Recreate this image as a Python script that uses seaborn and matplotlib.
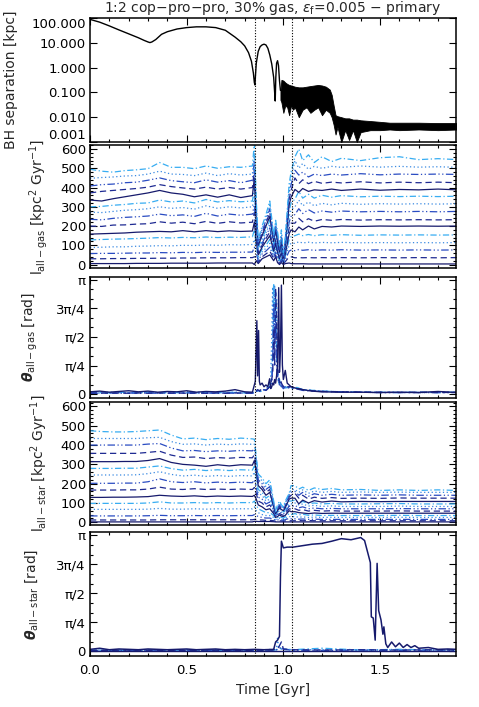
import numpy as np
import seaborn as sns
import matplotlib
matplotlib.use("Agg")
from matplotlib import pyplot as plt
from matplotlib.ticker import FixedLocator, MultipleLocator, LogLocator, NullFormatter

# ---------------- data ----------------
MERGE_T = [0.851, 1.045]

# BH separation, smooth orbit part [kpc]
T_SEP = [0.00, 0.05, 0.10, 0.15, 0.20, 0.25, 0.28, 0.30, 0.31, 0.32, 0.34, 0.37, 0.40, 0.45, 0.50,
         0.55, 0.60, 0.65, 0.70, 0.75, 0.78, 0.80, 0.82, 0.835, 0.845, 0.850, 0.853, 0.856, 0.86,
         0.87, 0.88, 0.89, 0.90, 0.91, 0.92, 0.93, 0.94, 0.95, 0.955, 0.958, 0.961, 0.965, 0.97,
         0.975, 0.98, 0.985]
SEP = [88, 68, 48, 33, 23, 16, 12.5, 10.8, 10.2, 10.8, 13.5, 22, 28, 36, 41,
       44, 44, 41, 32, 17, 11, 7.5, 4, 1.8, 0.6, 0.25, 0.2, 0.5, 1.5,
       4.5, 7, 8.2, 8.8, 8.2, 6, 3.2, 1.4, 0.4, 0.1, 0.045, 0.4, 1.5, 1.9,
       1.2, 0.3, 0.12]

# BH separation, unresolved oscillation band after coalescence
T_BAND = [0.985, 0.99, 1.00, 1.01, 1.02, 1.03, 1.04, 1.05, 1.06, 1.08, 1.10, 1.12, 1.14, 1.16, 1.18,
          1.20, 1.22, 1.24, 1.25, 1.26, 1.27, 1.28, 1.30, 1.32, 1.34, 1.36, 1.38, 1.40, 1.45, 1.50,
          1.55, 1.60, 1.70, 1.80, 1.90]
BAND_HI = [0.12, 0.32, 0.3, 0.25, 0.22, 0.2, 0.19, 0.18, 0.17, 0.16, 0.16, 0.17, 0.18, 0.19, 0.2,
           0.19, 0.17, 0.13, 0.08, 0.03, 0.012, 0.011, 0.01, 0.009, 0.009, 0.008, 0.008, 0.0075, 0.007, 0.0065,
           0.006, 0.006, 0.006, 0.0058, 0.0058]
BAND_LO = [0.05, 0.04, 0.015, 0.03, 0.025, 0.012, 0.03, 0.02, 0.025, 0.01, 0.02, 0.025, 0.015, 0.02, 0.025,
           0.012, 0.02, 0.015, 0.01, 0.005, 0.002, 0.004, 0.001, 0.003, 0.0012, 0.003, 0.001, 0.0025, 0.003, 0.003,
           0.0032, 0.003, 0.0032, 0.003, 0.0032]

# specific angular momentum, 15 radial shells, shared time knots [Gyr]
T_L = [0.00, 0.06, 0.12, 0.18, 0.24, 0.30, 0.36, 0.42, 0.48, 0.54, 0.60, 0.66, 0.72, 0.78, 0.84,
       0.85, 0.86, 0.87, 0.89, 0.91, 0.93, 0.95, 0.96, 0.97, 0.98, 0.99, 1.00, 1.01, 1.03, 1.04,
       1.06, 1.08, 1.10, 1.13, 1.16, 1.20, 1.25, 1.30, 1.40, 1.50, 1.60, 1.70, 1.80, 1.90]

L_GAS = [
    [5, 5, 5, 5, 6, 6, 6, 7, 7, 7, 7, 8, 8, 8, 8,
     0, 20, 5, 30, 40, 50, 20, 40, 10, 0, 10, 0, 5, 8, 5,
     4, 4, 4, 3, 3, 3, 3, 3, 3, 3, 3, 3, 3, 3],
    [30, 30, 31, 31, 32, 32, 33, 33, 34, 34, 35, 35, 35, 36, 36,
     40, 40, 10, 40, 55, 70, 30, 50, 20, 5, 20, 2, 15, 40, 40,
     35, 36, 35, 36, 35, 36, 35, 36, 35, 36, 35, 36, 35, 36],
    [57, 58, 58, 59, 60, 60, 62, 61, 63, 62, 64, 63, 64, 64, 65,
     90, 60, 20, 55, 70, 90, 40, 65, 30, 10, 30, 5, 25, 70, 75,
     72, 78, 74, 77, 74, 76, 75, 77, 75, 76, 75, 76, 75, 76],
    [88, 90, 92, 92, 95, 96, 98, 97, 100, 99, 102, 100, 103, 102, 104,
     130, 80, 30, 65, 85, 110, 50, 80, 40, 15, 40, 8, 35, 100, 110,
     110, 118, 112, 116, 112, 115, 113, 115, 113, 114, 113, 114, 113, 114],
    [128, 130, 132, 133, 135, 137, 140, 138, 141, 139, 143, 140, 142, 141, 144,
     180, 100, 40, 80, 100, 130, 60, 95, 55, 20, 55, 10, 45, 130, 145,
     150, 158, 150, 156, 150, 155, 152, 155, 152, 154, 153, 154, 153, 154],
    [158, 160, 162, 164, 168, 170, 172, 170, 176, 170, 176, 171, 175, 172, 174,
     220, 120, 50, 90, 120, 150, 70, 110, 65, 30, 65, 15, 55, 160, 180,
     170, 195, 180, 200, 185, 198, 195, 200, 198, 200, 199, 200, 199, 200],
    [200, 198, 205, 206, 210, 212, 222, 215, 220, 212, 224, 214, 222, 216, 220,
     270, 150, 60, 100, 135, 170, 80, 125, 75, 35, 75, 18, 65, 190, 215,
     215, 240, 222, 238, 225, 234, 230, 234, 231, 233, 232, 233, 232, 233],
    [235, 232, 240, 245, 248, 252, 262, 254, 258, 250, 266, 252, 262, 256, 262,
     310, 170, 70, 110, 150, 190, 90, 140, 85, 45, 90, 22, 75, 220, 250,
     260, 290, 265, 285, 268, 278, 272, 278, 274, 276, 274, 276, 274, 276],
    [272, 270, 276, 282, 285, 290, 300, 292, 296, 288, 305, 292, 300, 294, 300,
     360, 190, 80, 120, 165, 210, 100, 155, 100, 50, 100, 26, 85, 250, 285,
     300, 335, 305, 325, 305, 318, 310, 318, 313, 316, 314, 316, 314, 316],
    [300, 302, 308, 312, 318, 320, 335, 325, 330, 320, 338, 325, 332, 326, 330,
     400, 210, 90, 135, 180, 230, 110, 170, 110, 60, 110, 30, 95, 280, 320,
     340, 380, 345, 365, 345, 360, 350, 358, 352, 355, 353, 355, 353, 355],
    [335, 330, 342, 352, 362, 372, 385, 372, 365, 352, 362, 350, 362, 348, 358,
     450, 240, 100, 150, 200, 250, 120, 180, 120, 65, 125, 35, 105, 310, 350,
     390, 375, 395, 380, 388, 385, 392, 385, 392, 386, 390, 388, 392, 388],
    [372, 380, 385, 390, 395, 402, 415, 405, 398, 392, 402, 392, 400, 392, 400,
     490, 260, 105, 160, 215, 270, 130, 195, 135, 75, 135, 40, 115, 340, 385,
     450, 420, 440, 420, 432, 422, 428, 424, 430, 424, 428, 425, 428, 425],
    [408, 415, 418, 425, 428, 438, 450, 436, 430, 425, 440, 428, 436, 425, 438,
     540, 280, 115, 170, 230, 290, 135, 205, 145, 80, 150, 45, 125, 370, 415,
     490, 465, 480, 455, 470, 462, 470, 465, 472, 466, 470, 468, 470, 468],
    [448, 452, 455, 460, 462, 470, 485, 470, 468, 462, 475, 462, 472, 465, 470,
     580, 300, 120, 185, 245, 310, 140, 215, 155, 90, 165, 52, 130, 395, 450,
     540, 500, 525, 495, 510, 500, 510, 505, 512, 506, 510, 506, 508, 505],
    [495, 485, 480, 488, 492, 498, 530, 505, 505, 498, 512, 500, 508, 505, 512,
     630, 330, 130, 200, 260, 330, 150, 230, 170, 100, 180, 60, 140, 420, 480,
     560, 600, 540, 570, 530, 560, 535, 552, 540, 555, 560, 545, 550, 545],
]

L_STAR = [
    [2, 2, 2, 2, 2, 2, 2, 2, 2, 2, 2, 2, 2, 2, 2,
     5, 5, 4, 4, 4, 4, 3, 2, 2, 2, 2, 2, 2, 2, 2,
     2, 2, 2, 2, 2, 2, 2, 2, 2, 2, 2, 2, 2, 2],
    [12, 12, 12, 12, 12, 12, 13, 13, 13, 13, 13, 13, 13, 13, 13,
     15, 15, 12, 12, 10, 10, 8, 5, 6, 8, 7, 6, 7, 8, 8,
     8, 9, 8, 9, 8, 8, 8, 8, 8, 8, 8, 8, 8, 8],
    [33, 33, 33, 33, 33, 34, 36, 34, 34, 35, 34, 35, 34, 35, 35,
     40, 35, 30, 25, 22, 22, 15, 10, 12, 15, 12, 10, 14, 20, 18,
     18, 16, 17, 15, 16, 15, 15, 15, 15, 15, 15, 15, 15, 15],
    [67, 67, 67, 67, 67, 68, 72, 68, 68, 70, 68, 70, 69, 70, 70,
     80, 60, 50, 40, 35, 35, 25, 15, 18, 22, 18, 15, 20, 30, 28,
     30, 26, 28, 25, 27, 25, 26, 25, 25, 25, 26, 25, 25, 25],
    [98, 98, 98, 98, 98, 100, 106, 100, 100, 102, 100, 102, 100, 102, 102,
     110, 90, 70, 60, 50, 50, 35, 20, 24, 30, 25, 22, 28, 45, 40,
     45, 38, 42, 36, 38, 35, 36, 35, 35, 35, 36, 35, 35, 35],
    [129, 129, 130, 130, 131, 133, 140, 136, 134, 137, 133, 136, 134, 136, 134,
     140, 120, 90, 80, 65, 70, 45, 25, 30, 38, 32, 30, 36, 60, 55,
     55, 50, 48, 45, 48, 46, 47, 47, 47, 47, 47, 47, 47, 47],
    [167, 167, 167, 168, 168, 172, 182, 172, 170, 174, 170, 172, 170, 172, 170,
     180, 150, 110, 100, 80, 90, 55, 30, 36, 45, 40, 36, 44, 70, 68,
     70, 62, 66, 58, 62, 58, 60, 58, 58, 58, 59, 58, 58, 58],
    [202, 202, 202, 203, 203, 210, 225, 210, 206, 210, 204, 208, 205, 208, 205,
     220, 180, 130, 120, 95, 105, 60, 35, 42, 52, 46, 42, 52, 85, 80,
     88, 75, 80, 70, 74, 70, 72, 70, 70, 70, 71, 70, 70, 70],
    [245, 245, 245, 245, 246, 252, 262, 248, 240, 244, 238, 242, 238, 242, 240,
     260, 210, 150, 140, 110, 120, 65, 40, 48, 60, 53, 48, 60, 95, 95,
     100, 90, 95, 84, 88, 82, 85, 82, 82, 82, 84, 82, 82, 82],
    [279, 279, 279, 280, 280, 286, 292, 278, 270, 274, 268, 272, 268, 272, 270,
     290, 240, 170, 155, 125, 140, 75, 42, 54, 68, 60, 54, 68, 110, 110,
     115, 100, 108, 96, 100, 95, 98, 95, 95, 96, 97, 95, 95, 95],
    [314, 314, 314, 315, 315, 320, 330, 310, 300, 296, 290, 298, 292, 298, 296,
     320, 265, 190, 170, 140, 155, 80, 45, 60, 75, 66, 60, 76, 120, 125,
     125, 95, 115, 100, 112, 105, 110, 106, 108, 107, 108, 108, 108, 108],
    [357, 357, 357, 357, 357, 362, 368, 348, 336, 338, 330, 335, 332, 336, 334,
     350, 290, 205, 185, 155, 170, 90, 50, 66, 82, 72, 66, 84, 130, 140,
     150, 125, 140, 120, 130, 124, 128, 124, 125, 124, 126, 125, 125, 125],
    [400, 400, 400, 400, 400, 405, 408, 385, 370, 372, 366, 370, 368, 372, 370,
     380, 310, 220, 200, 170, 185, 95, 52, 72, 90, 78, 72, 92, 140, 155,
     160, 140, 155, 135, 148, 140, 145, 140, 142, 140, 142, 140, 140, 140],
    [434, 434, 434, 434, 434, 438, 440, 418, 404, 406, 400, 405, 402, 406, 404,
     405, 325, 235, 215, 185, 200, 100, 55, 80, 100, 84, 76, 100, 145, 170,
     170, 155, 168, 150, 162, 155, 160, 155, 157, 155, 156, 155, 155, 155],
    [474, 470, 468, 468, 470, 474, 478, 452, 432, 436, 428, 434, 430, 436, 432,
     430, 340, 250, 230, 200, 220, 110, 60, 90, 110, 90, 80, 110, 150, 190,
     190, 172, 182, 165, 178, 170, 175, 168, 170, 165, 168, 165, 168, 165],
]

# misalignment angle of gas [rad]; line style index of each curve
T_THG = [0.00, 0.05, 0.10, 0.15, 0.20, 0.25, 0.30, 0.35, 0.40, 0.45, 0.50, 0.55, 0.60, 0.65, 0.70, 0.75, 0.80, 0.84,
         0.855, 0.863, 0.867, 0.872, 0.876, 0.88, 0.89, 0.90, 0.91, 0.92,
         0.929, 0.935, 0.94, 0.945, 0.95, 0.955, 0.96, 0.965, 0.97, 0.976,
         0.98, 0.985, 0.99, 0.995, 1.00, 1.01, 1.02,
         1.04, 1.07, 1.10, 1.15, 1.20, 1.30, 1.40, 1.50, 1.60, 1.70, 1.80, 1.90]
TH_GAS_STYLE = [4, 3, 2, 1, 0]
TH_GAS = [
    [0.03, 0.04, 0.03, 0.05, 0.04, 0.03, 0.05, 0.04, 0.03, 0.04, 0.05, 0.03, 0.04, 0.03, 0.05, 0.04, 0.03, 0.04,
     0.05, 0.1, 0.08, 0.1, 0.08, 0.07, 0.08, 0.1, 0.12, 0.15, 0.2, 0.3, 0.5, 1.2, 3.05, 2.0, 2.8, 1.0, 0.5, 0.3,
     0.4, 0.25, 0.2, 0.2, 0.15, 0.2, 0.18,
     0.15, 0.18, 0.12, 0.1, 0.08, 0.06, 0.05, 0.05, 0.04, 0.05, 0.04, 0.05],
    [0.04, 0.03, 0.05, 0.04, 0.03, 0.05, 0.04, 0.03, 0.05, 0.04, 0.03, 0.05, 0.04, 0.03, 0.04, 0.05, 0.04, 0.03,
     0.05, 0.08, 0.1, 0.08, 0.1, 0.08, 0.1, 0.12, 0.15, 0.2, 0.25, 0.5, 1.5, 2.95, 1.2, 3.0, 1.5, 2.6, 0.8, 0.4,
     0.3, 0.35, 0.25, 0.2, 0.2, 0.15, 0.2,
     0.18, 0.15, 0.12, 0.1, 0.08, 0.06, 0.05, 0.04, 0.05, 0.04, 0.05, 0.04],
    [0.03, 0.02, 0.03, 0.02, 0.03, 0.02, 0.03, 0.02, 0.03, 0.02, 0.03, 0.02, 0.03, 0.02, 0.03, 0.02, 0.03, 0.02,
     0.05, 0.08, 0.06, 0.08, 0.1, 0.08, 0.1, 0.12, 0.1, 0.15, 0.2, 0.25, 0.3, 0.8, 2.5, 1.5, 2.0, 0.8, 0.5, 0.3,
     0.25, 0.3, 0.2, 0.2, 0.15, 0.2, 0.18,
     0.16, 0.14, 0.1, 0.08, 0.07, 0.06, 0.05, 0.04, 0.04, 0.04, 0.04, 0.04],
    [0.02, 0.03, 0.02, 0.03, 0.02, 0.03, 0.02, 0.03, 0.02, 0.03, 0.02, 0.03, 0.02, 0.03, 0.02, 0.03, 0.02, 0.03,
     0.05, 0.1, 0.12, 0.1, 0.08, 0.1, 0.15, 0.12, 0.1, 0.15, 0.2, 0.3, 0.4, 0.6, 1.8, 0.8, 2.9, 2.0, 0.7, 0.5,
     0.3, 0.4, 0.3, 0.25, 0.2, 0.25, 0.2,
     0.2, 0.16, 0.12, 0.09, 0.07, 0.06, 0.05, 0.05, 0.04, 0.05, 0.04, 0.05],
    [0.06, 0.08, 0.05, 0.07, 0.09, 0.06, 0.08, 0.05, 0.07, 0.06, 0.09, 0.05, 0.07, 0.06, 0.08, 0.12, 0.06, 0.05,
     0.35, 2.02, 0.5, 1.75, 0.35, 0.25, 0.3, 0.2, 0.25, 0.2, 0.42, 0.15, 0.2, 0.3, 0.25, 0.4, 0.3, 0.5, 0.8, 2.93,
     0.6, 1.2, 3.0, 0.8, 0.4, 0.65, 0.3,
     0.2, 0.15, 0.12, 0.08, 0.06, 0.05, 0.05, 0.04, 0.05, 0.04, 0.07, 0.04],
]

# misalignment angle of stars [rad]
T_THS_LOW = [0.0, 0.2, 0.4, 0.6, 0.8, 0.9, 0.95, 0.965, 0.97, 0.975, 0.99, 1.0, 1.05, 1.2, 1.4, 1.6, 1.8, 1.9]
TH_STAR_LOW_STYLE = [4, 2, 3, 1, 0]
TH_STAR_LOW = [
    [0.03, 0.02, 0.03, 0.02, 0.03, 0.02, 0.03, 0.04, 0.05, 0.06, 0.08, 0.05, 0.04, 0.08, 0.03, 0.05, 0.03, 0.04],
    [0.02, 0.02, 0.03, 0.02, 0.02, 0.03, 0.03, 0.04, 0.06, 0.05, 0.12, 0.05, 0.03, 0.02, 0.03, 0.02, 0.03, 0.02],
    [0.03, 0.04, 0.03, 0.04, 0.03, 0.04, 0.05, 0.1, 0.35, 0.1, 0.06, 0.05, 0.04, 0.04, 0.03, 0.04, 0.03, 0.04],
    [0.02, 0.03, 0.02, 0.03, 0.02, 0.03, 0.04, 0.05, 0.06, 0.1, 0.25, 0.06, 0.04, 0.03, 0.04, 0.03, 0.04, 0.03],
    [0.01, 0.01, 0.01, 0.01, 0.01, 0.01, 0.01, 0.01, 0.01, 0.01, 0.01, 0.01, 0.01, 0.01, 0.01, 0.01, 0.01, 0.01],
]
T_THS = [0.00, 0.05, 0.10, 0.15, 0.20, 0.25, 0.30, 0.35, 0.40, 0.45, 0.50, 0.55, 0.60, 0.65, 0.70, 0.75, 0.80, 0.85, 0.90, 0.95,
         0.96, 0.97, 0.975, 0.98, 0.985, 0.99, 1.00, 1.02,
         1.05, 1.10, 1.15, 1.20, 1.25, 1.30, 1.35, 1.40, 1.42, 1.44,
         1.45, 1.455, 1.465, 1.475, 1.485, 1.493, 1.505, 1.515, 1.52, 1.53, 1.54,
         1.56, 1.58, 1.60, 1.62, 1.64, 1.66, 1.68, 1.70, 1.75, 1.80, 1.85, 1.90]
TH_STAR = [0.05, 0.08, 0.04, 0.06, 0.05, 0.04, 0.06, 0.05, 0.04, 0.05, 0.06, 0.04, 0.05, 0.06, 0.04, 0.05, 0.04, 0.05, 0.04, 0.05,
           0.25, 0.3, 0.35, 0.4, 2.0, 2.98, 2.8, 2.82,
           2.82, 2.86, 2.9, 2.92, 2.98, 3.05, 3.02, 3.08, 3.0, 2.6,
           2.4, 0.93, 0.9, 0.3, 2.38, 1.1, 0.85, 0.46, 0.66, 0.2, 0.1,
           0.25, 0.12, 0.22, 0.1, 0.18, 0.1, 0.15, 0.08, 0.1, 0.05, 0.06, 0.05]

# line style cycle used for the radial shells
COLORS = ["#161a6c", "#1e2a92", "#2a4cc2", "#3a8ae2", "#38adf2"]
STYLES = ["-", (0, (5, 3)), (0, (6, 2, 1, 2, 1, 2)), (0, (1, 2)), (0, (5, 2, 1, 2))]

PI_TICKS = [0, np.pi / 4, np.pi / 2, 3 * np.pi / 4, np.pi]
PI_LABELS = ["0", "\u03c0/4", "\u03c0/2", "3\u03c0/4", "\u03c0"]

# ---------------- figure ----------------
sns.set_style("ticks")
plt.rcParams["font.family"] = ["DejaVu Sans"]
plt.rcParams["mathtext.fontset"] = "dejavusans"
plt.rcParams["font.size"] = 9.5

W, H = 479, 707
fig = plt.figure(figsize=(W / 100, H / 100), dpi=100)

# panel boxes in pixels: (top, bottom)
boxes = [(18, 142), (145, 268), (277, 398), (402, 525), (532, 656)]
axes = []
for top, bot in boxes:
    axes.append(fig.add_axes([90 / W, 1 - bot / H, 366 / W, (bot - top) / H]))


def shell_lines(ax, t, rows, styles=None, lw=0.9):
    for i, row in enumerate(rows):
        s = styles[i] if styles is not None else i % 5
        sns.lineplot(x=t, y=row, ax=ax, color=COLORS[s], linestyle=STYLES[s],
                     lw=lw, estimator=None, sort=False, legend=False)


# panel 1: BH separation
ax = axes[0]
sns.lineplot(x=T_SEP, y=SEP, ax=ax, color="black", lw=1.0, estimator=None, sort=False)
ax.fill_between(T_BAND, BAND_LO, BAND_HI, color="black", lw=0.6)
ax.set_yscale("log")
ax.set_ylim(1e-3, 1e2)
ax.yaxis.set_major_locator(FixedLocator([1e-3, 1e-2, 1e-1, 1, 10, 100]))
ax.set_yticklabels(["0.001", "0.010", "0.100", "1.000", "10.000", "100.000"])
lbls = ax.get_yticklabels()
lbls[0].set_va("bottom")
lbls[-1].set_va("top")
ax.yaxis.set_minor_locator(LogLocator(base=10, subs=np.arange(2, 10)))
ax.yaxis.set_minor_formatter(NullFormatter())
ax.set_ylabel("BH separation [kpc]", fontsize=10)
ax.yaxis.set_label_coords(-0.196, 0.5)

# panel 2: l gas
ax = axes[1]
shell_lines(ax, T_L, L_GAS)
ax.set_ylim(-18, 621)
ax.yaxis.set_major_locator(MultipleLocator(100))
ax.yaxis.set_minor_locator(MultipleLocator(20))
ax.set_ylabel(r"l$_{\mathrm{all-gas}}$ [kpc$^2$ Gyr$^{-1}$]", fontsize=10)
ax.yaxis.set_label_coords(-0.108, 0.5)

# panel 3: theta gas
ax = axes[2]
shell_lines(ax, T_THG, TH_GAS, TH_GAS_STYLE, lw=1.0)
ax.set_ylim(-0.11, 3.224)
ax.yaxis.set_major_locator(FixedLocator(PI_TICKS))
ax.set_yticklabels(PI_LABELS)
ax.yaxis.set_minor_locator(MultipleLocator(np.pi / 12))
ax.set_ylabel(r"$\boldsymbol{\theta}_{\mathrm{all-gas}}$ [rad]", fontsize=10)
ax.yaxis.set_label_coords(-0.137, 0.5)

# panel 4: l star
ax = axes[3]
shell_lines(ax, T_L, L_STAR)
ax.set_ylim(-14, 623)
ax.yaxis.set_major_locator(MultipleLocator(100))
ax.yaxis.set_minor_locator(MultipleLocator(20))
ax.set_ylabel(r"l$_{\mathrm{all-star}}$ [kpc$^2$ Gyr$^{-1}$]", fontsize=10)
ax.yaxis.set_label_coords(-0.108, 0.5)

# panel 5: theta star
ax = axes[4]
shell_lines(ax, T_THS_LOW, TH_STAR_LOW, TH_STAR_LOW_STYLE, lw=1.0)
sns.lineplot(x=T_THS, y=TH_STAR, ax=ax, color=COLORS[0], lw=1.1, estimator=None, sort=False)
ax.set_ylim(-0.13, 3.23)
ax.yaxis.set_major_locator(FixedLocator(PI_TICKS))
ax.set_yticklabels(PI_LABELS)
ax.yaxis.set_minor_locator(MultipleLocator(np.pi / 12))
ax.set_ylabel(r"$\boldsymbol{\theta}_{\mathrm{all-star}}$ [rad]", fontsize=10)
ax.yaxis.set_label_coords(-0.137, 0.5)
ax.set_xlabel("Time [Gyr]", fontsize=10)

for k, ax in enumerate(axes):
    ax.set_xlim(0, 1.893)
    ax.xaxis.set_major_locator(MultipleLocator(0.5))
    ax.xaxis.set_minor_locator(MultipleLocator(0.1))
    for tm in MERGE_T:
        ax.axvline(tm, color="black", ls=(0, (1, 1.5)), lw=0.8)
    ax.tick_params(which="both", direction="in", top=True, right=True, colors="black",
                   labelsize=9.5, width=0.8)
    ax.tick_params(which="major", length=5, pad=3)
    ax.tick_params(which="minor", length=2.5)
    ax.tick_params(axis="x", pad=6)
    if k < 4:
        ax.tick_params(axis="x", labelbottom=False)
    for sp in ax.spines.values():
        sp.set_linewidth(1.1)
        sp.set_color("black")

fig.text(273 / W, 1 - 8 / H, r"1:2 cop$-$pro$-$pro, 30% gas, $\epsilon_{\mathrm{f}}$=0.005 $-$ primary",
         ha="center", va="center", fontsize=10)

fig.savefig("out.png", dpi=100)
